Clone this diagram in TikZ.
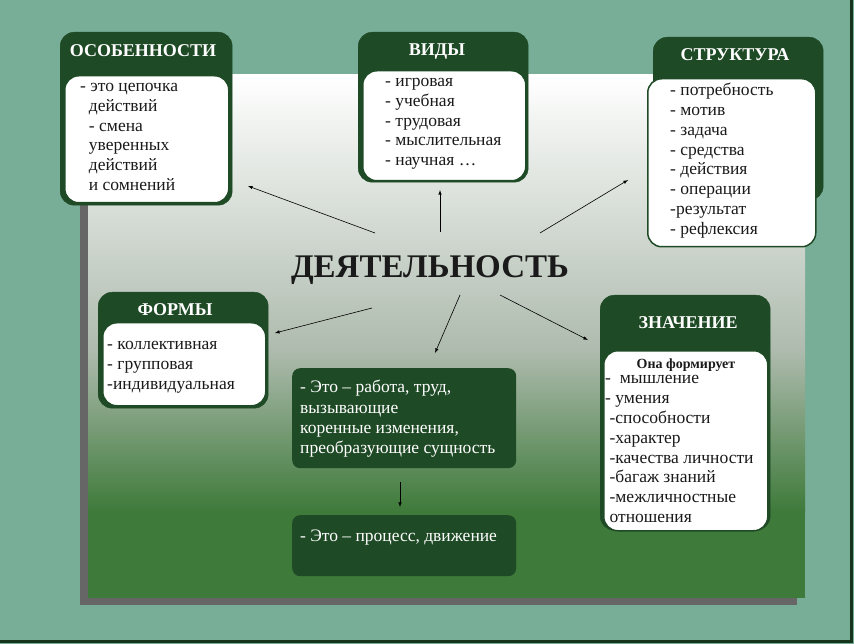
\documentclass[tikz,border=0pt]{standalone}
\usepackage{fontspec}
\setmainfont{Liberation Serif}
\usetikzlibrary{positioning}
\definecolor{bgteal}{HTML}{78AE97}
\definecolor{darkgreen}{HTML}{1F4A26}
\definecolor{midgreen}{HTML}{3E7A3A}
\definecolor{greygreen}{HTML}{AEBBAE}
\definecolor{txt}{HTML}{1A1A1A}
\tikzset{
  head/.style={draw=darkgreen, fill=darkgreen, rounded corners=14pt, anchor=north west, inner sep=0pt},
  inbox/.style={draw=darkgreen, line width=1.5pt, fill=white, rounded corners=14pt, anchor=north west, inner sep=0pt},
  plain/.style={fill=darkgreen, rounded corners=8pt, anchor=north west, inner sep=0pt},
  title/.style={text=white, font=\rmfamily\bfseries\fontsize{18}{18}\selectfont},
  list/.style={anchor=north west, align=left, text=txt, inner sep=0pt, font=\rmfamily\fontsize{17.5}{19.8}\selectfont},
  wlist/.style={anchor=north west, align=left, text=white, inner sep=0pt, font=\rmfamily\fontsize{17.5}{20.3}\selectfont},
  arr/.style={-latex, semithick, black}
}
\begin{document}
\begin{tikzpicture}[x=1pt, y=-1pt]
	\useasboundingbox (0,0) rectangle (854,644);
	\fill[bgteal] (0,0) rectangle (854,644);
	\draw[darkgreen!70!black, line width=3pt] (0,641) -- (851,641) -- (851,0);
	% panel with shadow
	\fill[gray!80!black] (80,83) rectangle (797,605);
	\shade[top color=white, bottom color=greygreen] (88,75) rectangle (805,350);
	\shade[top color=greygreen, bottom color=midgreen] (88,350) rectangle (805,512);
	\fill[midgreen] (88,511) rectangle (805,598);

	% features
	\node[head, minimum width=172pt, minimum height=173pt] (osob) at (60,32) {};
	\node[title] at (143,51) {ОСОБЕННОСТИ};
	\node[inbox, minimum width=164pt, minimum height=127pt] (osobin) at (64,75) {};
	\node[list] (osobtxt) at (80,83) {- это цепочка\\\ \ действий\\\ \ - смена\\\ \ уверенных\\\ \ действий\\\ \ и сомнений};

	% kinds
	\node[head, minimum width=170pt, minimum height=150pt] (vidy) at (358,32) {};
	\node[title] at (437,52) {ВИДЫ};
	\node[inbox, minimum width=163pt, minimum height=110pt] (vidyin) at (362,70) {};
	\node[list] (vidytxt) at (385,78) {- игровая\\- учебная\\- трудовая\\- мыслительная\\- научная \dots};

	% structure
	\node[head, minimum width=170pt, minimum height=163pt] (strk) at (653,37) {};
	\node[title] at (735,55) {СТРУКТУРА};
	\node[inbox, minimum width=168pt, minimum height=168pt] (strkin) at (647,78) {};
	\node[list] (strktxt) at (670,83) {- потребность\\- мотив\\- задача\\- средства\\- действия\\- операции\\-результат\\- рефлексия};

	% forms
	\node[head, minimum width=170pt, minimum height=116pt] (formy) at (98,292) {};
	\node[title] at (175,310) {ФОРМЫ};
	\node[inbox, minimum width=163pt, minimum height=83pt] (formyin) at (102,322) {};
	\node[list] (formytxt) at (107,341) {- коллективная\\- групповая\\-индивидуальная};

	% meaning
	\node[head, minimum width=170pt, minimum height=235pt] (znach) at (600,295) {};
	\node[title] at (688,323) {ЗНАЧЕНИЕ};
	\node[inbox, minimum width=164pt, minimum height=180pt] (znachin) at (603,350) {};
	\node[text=txt, font=\rmfamily\bfseries\fontsize{14}{14}\selectfont] (forms) at (686,365) {Она формирует};
	\node[list, font=\rmfamily\fontsize{17.5}{19.9}\selectfont] (znachtxt) at (605,375) {-\ \ мышление\\- умения\\\ -способности\\\ -характер\\\ -качества личности\\\ -багаж знаний\\\ -межличностные\\\ отношения};

	% centre
	\node[text=txt, font=\rmfamily\bfseries\fontsize{33}{33}\selectfont] (deyat) at (430,270) {ДЕЯТЕЛЬНОСТЬ};
	\node[plain, minimum width=224pt, minimum height=100pt] (rabota) at (292,368) {};
	\node[wlist] (rabotatxt) at (300,380) {- Это -- работа, труд,\\вызывающие\\коренные изменения,\\преобразующие сущность};
	\node[plain, minimum width=224pt, minimum height=61pt] (process) at (292,515) {};
	\node[wlist] (processtxt) at (300,530) {- Это -- процесс, движение};

	% arrows
	\coordinate (a1) at (375,233); \coordinate (b1) at (248,186);
	\coordinate (a2) at (440,232); \coordinate (b2) at (440,190);
	\coordinate (a3) at (540,233); \coordinate (b3) at (628,180);
	\coordinate (a4) at (372,308); \coordinate (b4) at (275,333);
	\coordinate (a5) at (460,295); \coordinate (b5) at (435,353);
	\coordinate (a6) at (500,295); \coordinate (b6) at (588,340);
	\coordinate (a7) at (400,482); \coordinate (b7) at (400,507);
	\foreach \s/\t in {a1/b1,a2/b2,a3/b3,a4/b4,a5/b5,a6/b6,a7/b7}
		\draw[arr] (\s) -- (\t);
\end{tikzpicture}
\end{document}
